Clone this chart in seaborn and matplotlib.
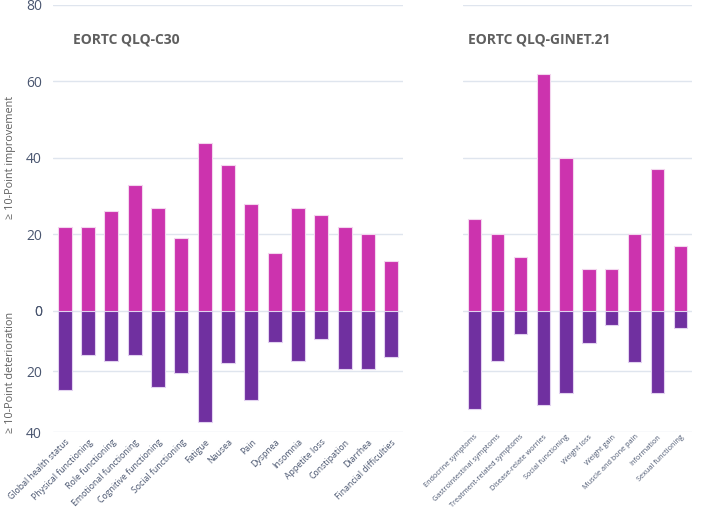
import matplotlib.pyplot as plt
import seaborn as sns
import pandas as pd


#---------- Data ----------
c30_labels = ["Global health status", "Physical functioning", "Role functioning",
              "Emotional functioning", "Cognitive functioning", "Social functioning",
              "Fatigue", "Nausea", "Pain", "Dyspnea", "Insomnia", "Appetite loss",
              "Constipation", "Diarrhea", "Financial difficulties"]
c30_improve = [22, 22, 26, 33, 27, 19, 44, 38, 28, 15, 27, 25, 22, 20, 13]
c30_worse = [26, 14.5, 16.5, 14.5, 25, 20.5, 36.7, 17.2, 29.3, 10.4, 16.5, 9.3, 19.2, 19.2, 15.3]

gi_labels = ["Endocrine symptoms", "Gastrointestinal symptoms", "Treatment-related symptoms",
             "Disease-relate worries", "Social functioning", "Weight loss", "Weight gain",
             "Muscle and bone pain", "Information", "Sexual functioning"]
gi_improve = [24, 20, 14, 62, 40, 11, 11, 20, 37, 17]
gi_worse = [32.4, 16.5, 7.7, 31, 27, 10.6, 4.6, 17, 27, 5.8]

MAGENTA = "#cc33ae"
PURPLE = "#7030a0"
GRID = "#dfe5ee"
TICK = "#4a5670"
TITLE = "#5f5f5f"

sns.set_theme(style="white")
plt.rcParams["font.family"] = ["Open Sans", "DejaVu Sans"]

fig = plt.figure(figsize=(7.09, 5.08), dpi=100)

# pixel layout -> figure fractions
W, H = 709, 508
y_top, y_zero, y_bot = 5, 310.7, 432
panels = [(53, 350, c30_labels, c30_improve, c30_worse, "EORTC QLQ-C30", 6.3, 0.6, 4),
          (463, 229, gi_labels, gi_improve, gi_worse, "EORTC QLQ-GINET.21", 5.2, 0.58, 1)]

for i, (x0, w, labels, up, down, title, xfs, bw, xpad) in enumerate(panels):
    ax_up = fig.add_axes([x0 / W, 1 - y_zero / H, w / W, (y_zero - y_top) / H])
    ax_dn = fig.add_axes([x0 / W, 1 - y_bot / H, w / W, (y_bot - y_zero) / H])

    df_up = pd.DataFrame({"item": labels, "value": up})
    df_dn = pd.DataFrame({"item": labels, "value": down})

    sns.barplot(data=df_up, x="item", y="value", color=MAGENTA, saturation=1,
                width=bw, edgecolor="#f3d6ee", linewidth=0.8, ax=ax_up, zorder=3)
    sns.barplot(data=df_dn, x="item", y="value", color=PURPLE, saturation=1,
                width=bw, edgecolor="#e2d2f0", linewidth=0.8, ax=ax_dn, zorder=3)

    ax_up.set_ylim(0, 80)
    ax_dn.set_ylim(40, 0)
    ax_up.set_yticks([0, 20, 40, 60, 80])
    ax_dn.set_yticks([0, 20, 40])
    for ax in (ax_up, ax_dn):
        ax.set_xlim(-0.5, len(labels) - 0.5)
        ax.grid(axis="y", color=GRID, linewidth=1, zorder=0)
        sns.despine(ax=ax, left=True, bottom=True)
        ax.set_xlabel("")
        ax.set_ylabel("")
        ax.tick_params(length=0, labelsize=10, labelcolor=TICK, pad=8)

    ax_up.set_xticks(range(len(labels)))
    ax_up.set_xticklabels([])
    ax_dn.set_xticks(range(len(labels)))
    ax_dn.set_xticklabels(labels, rotation=45, ha="right", rotation_mode="anchor",
                          fontsize=xfs, color=TICK)
    ax_dn.tick_params(axis="x", pad=xpad)

    ax_up.text(0.057 if i == 0 else 0.022, 0.886, title, transform=ax_up.transAxes,
               fontsize=10, fontweight="bold", color=TITLE, va="center")

    if i == 0:
        ax_up.set_yticklabels(["0", "20", "40", "60", "80"])
        ax_dn.set_yticklabels(["0", "20", "40"])
    else:
        ax_up.set_yticklabels([])
        ax_dn.set_yticklabels([])

# side labels
fig.text(11 / W, 1 - 157 / H, "≥ 10-Point improvement", rotation=90,
         ha="center", va="center", fontsize=7.8, color=TITLE)
fig.text(11 / W, 1 - 372 / H, "≥ 10-Point deterioration", rotation=90,
         ha="center", va="center", fontsize=7.8, color=TITLE)

plt.savefig("out.png", dpi=100)
